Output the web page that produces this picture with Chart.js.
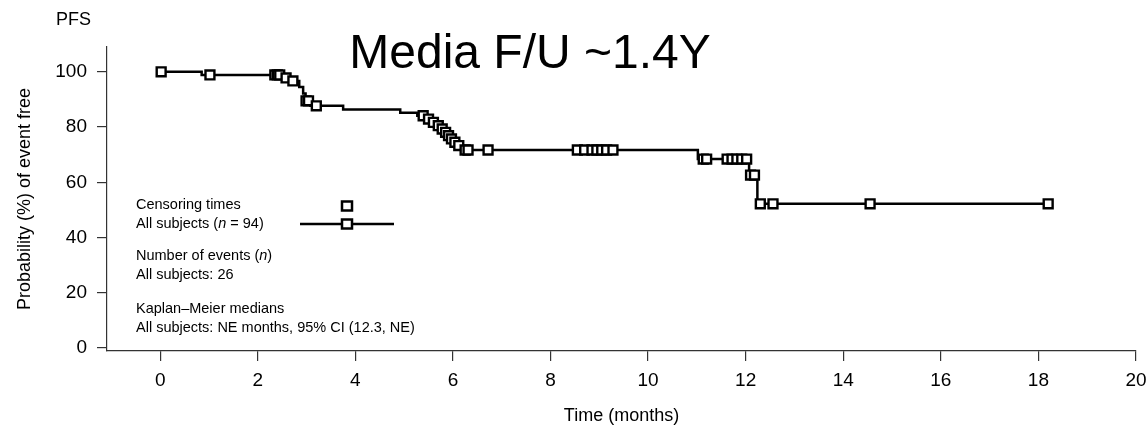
<!DOCTYPE html>
<html>
<head>
<meta charset="utf-8">
<script src="https://cdn.jsdelivr.net/npm/chart.js@4.4.1/dist/chart.umd.min.js"></script>
<style>
  html, body { margin: 0; padding: 0; background: #fff; }
  #wrap { width: 1147px; height: 427px; position: relative; }
</style>
</head>
<body>
<div id="wrap"><canvas id="kmChart"></canvas></div>
<script>
// Kaplan-Meier PFS curve, all subjects (n = 94)

/* ---------------------------
   DATA
---------------------------*/
// step points of the curve: time (months) and survival (%) after each event
const stepTimes = [0, 0.85, 2.5, 2.65, 2.85, 2.93, 2.98, 3.08, 3.75, 4.92, 5.27, 5.45, 5.55, 5.65, 5.75, 5.82, 5.88, 5.94, 6.0, 6.08, 6.2, 11.02, 12.07, 12.24, 18.2];
const stepSurv  = [100, 98.9, 97.8, 96.7, 94.5, 92.2, 89.5, 87.7, 86.4, 85.2, 84.1, 82.9, 81.7, 80.5, 79.3, 78.1, 76.9, 75.7, 74.5, 73.3, 71.7, 68.4, 62.6, 52.2, 52.2];

// censoring times (months)
const censorTimes = [0.02, 1.02, 2.35, 2.4, 2.45, 2.58, 2.72, 2.99, 3.04, 3.2,
    5.39, 5.5, 5.6, 5.7, 5.78, 5.85, 5.91, 5.97, 6.04, 6.12, 6.25, 6.31, 6.72,
    8.55, 8.7, 8.85, 8.95, 9.05, 9.15, 9.28,
    11.13, 11.2, 11.62, 11.72, 11.82, 11.92, 12.02, 12.1, 12.18,
    12.3, 12.56, 14.55, 18.2];

const xTicks = [0, 2, 4, 6, 8, 10, 12, 14, 16, 18, 20];
const yTicks = [0, 20, 40, 60, 80, 100];

/* ---------------------------
   HELPERS
---------------------------*/
function survAt(t) {
    let s = stepSurv[0];
    for (let i = 0; i < stepTimes.length; i++) {
        if (stepTimes[i] <= t) s = stepSurv[i];
    }
    return s;
}

const FONT = '"Liberation Sans", Arial, Helvetica, sans-serif';
const AXIS = '#333';

// titles and the in-plot legend
const annotations = {
    id: 'annotations',
    afterDraw(chart) {
        const ctx = chart.ctx;
        const area = chart.chartArea;
        ctx.save();
        ctx.fillStyle = '#000';
        ctx.textBaseline = 'middle';

        ctx.font = '18px ' + FONT;
        ctx.textAlign = 'left';
        ctx.fillText('PFS', 56, 20);

        ctx.font = '48px ' + FONT;
        ctx.textAlign = 'center';
        ctx.textBaseline = 'alphabetic';
        ctx.fillText('Media F/U ~1.4Y', 530, 68);

        // legend block
        ctx.textBaseline = 'middle';
        ctx.textAlign = 'left';
        const lx = area.left + 29;
        const size = 14.5;
        const plain = size + 'px ' + FONT;
        const ital = 'italic ' + size + 'px ' + FONT;

        function runs(parts, x, y) {
            parts.forEach(p => {
                ctx.font = p[1] ? ital : plain;
                ctx.fillText(p[0], x, y);
                x += ctx.measureText(p[0]).width;
            });
        }

        runs([['Censoring times']], lx, 205);
        runs([['All subjects ('], ['n', true], [' = 94)']], lx, 224);
        runs([['Number of events ('], ['n', true], [')']], lx, 256);
        runs([['All subjects: 26']], lx, 275);
        runs([['Kaplan\u2013Meier medians']], lx, 309);
        runs([['All subjects: NE months, 95% CI (12.3, NE)']], lx, 328);

        // legend sample
        ctx.strokeStyle = '#000';
        ctx.lineWidth = 2.5;
        ctx.beginPath();
        ctx.moveTo(area.left + 193, 224);
        ctx.lineTo(area.left + 287, 224);
        ctx.stroke();
        ctx.fillStyle = '#fff';
        [206, 224].forEach(y => {
            ctx.fillRect(area.left + 235, y - 4.5, 10, 9);
            ctx.strokeRect(area.left + 235, y - 4.5, 10, 9);
        });
        ctx.restore();
    }
};

/* ---------------------------
   CHART
---------------------------*/
function initializeChart() {
    const ctx = document.getElementById('kmChart');

    return new Chart(ctx, {
        type: 'line',
        data: {
            datasets: [{
                label: 'All subjects',
                data: stepTimes.map((t, i) => ({ x: t, y: stepSurv[i] })),
                stepped: 'before',
                borderColor: '#000',
                borderWidth: 2.5,
                pointRadius: 0,
                fill: false,
                order: 2
            }, {
                label: 'Censoring times',
                data: censorTimes.map(t => ({ x: t, y: survAt(t) })),
                showLine: false,
                pointStyle: 'rect',
                pointRadius: 6.3,
                pointBorderWidth: 2.4,
                pointBorderColor: '#000',
                pointBackgroundColor: '#fff',
                order: 1
            }]
        },
        options: {
            responsive: true,
            maintainAspectRatio: false,
            animation: false,
            events: [],
            layout: {
                padding: { top: 47, right: 11, left: 14, bottom: 0 }
            },
            plugins: {
                legend: { display: false },
                tooltip: { enabled: false }
            },
            scales: {
                x: {
                    type: 'linear',
                    min: -1.09,
                    max: 20,
                    afterBuildTicks: s => { s.ticks = xTicks.map(v => ({ value: v })); },
                    afterFit: s => {
                        s.height = 76;
                        s.paddingLeft = 0;
                        s.paddingRight = 0;
                    },
                    border: { color: AXIS, width: 1.2 },
                    grid: { drawOnChartArea: false, color: AXIS, tickLength: 10, lineWidth: 1.2 },
                    ticks: {
                        color: '#000',
                        font: { family: FONT, size: 19 },
                        padding: 8,
                        maxRotation: 0,
                        autoSkip: false
                    },
                    title: {
                        display: true,
                        text: 'Time (months)',
                        color: '#000',
                        font: { family: FONT, size: 18 },
                        padding: 0
                    }
                },
                y: {
                    min: -1.1,
                    max: 109,
                    afterBuildTicks: s => { s.ticks = yTicks.map(v => ({ value: v })); },
                    afterFit: s => { s.width = 93; },
                    border: { color: AXIS, width: 1.2 },
                    grid: { drawOnChartArea: false, color: AXIS, tickLength: 10, lineWidth: 1.2 },
                    ticks: {
                        color: '#000',
                        font: { family: FONT, size: 19 },
                        padding: 10,
                        autoSkip: false
                    },
                    title: {
                        display: true,
                        text: 'Probability (%) of event free',
                        color: '#000',
                        font: { family: FONT, size: 18 },
                        padding: 0
                    }
                }
            }
        },
        plugins: [annotations]
    });
}

initializeChart();
</script>
</body>
</html>
